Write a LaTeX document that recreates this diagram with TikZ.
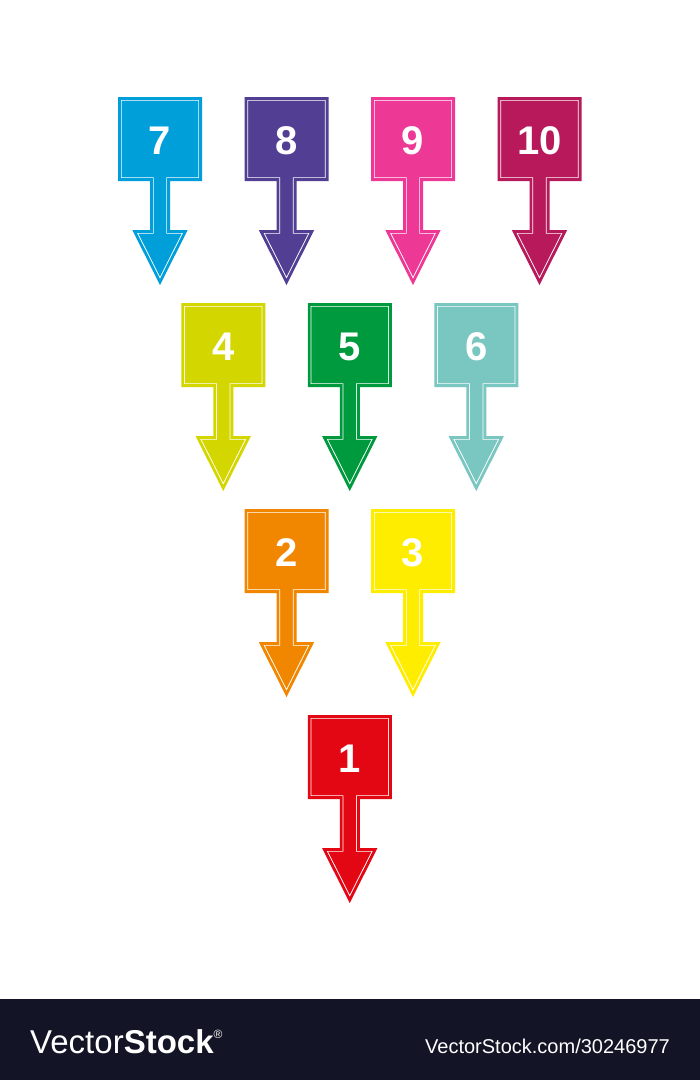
\documentclass[tikz,border=0pt]{standalone}
\usepackage{fontspec}
\setmainfont{Liberation Sans}
\usepackage{tikz}
\usepackage{xcolor}
\definecolor{sign-one}{RGB}{227,6,19}
\definecolor{sign-two}{RGB}{241,135,0}
\definecolor{sign-three}{RGB}{255,237,0}
\definecolor{sign-four}{RGB}{212,214,0}
\definecolor{sign-five}{RGB}{0,154,62}
\definecolor{sign-six}{RGB}{122,199,194}
\definecolor{sign-seven}{RGB}{0,159,218}
\definecolor{sign-eight}{RGB}{82,63,148}
\definecolor{sign-nine}{RGB}{238,56,150}
\definecolor{sign-ten}{RGB}{183,25,90}
\definecolor{bar-dark}{RGB}{19,21,38}
\tikzset{
    sign-body/.style = {fill=#1, draw=white, double=#1, line width=0.9pt, double distance=2.8pt, line join=miter},
    sign-number/.style = {text=white, font=\fontsize{40}{40}\selectfont\bfseries, anchor=base, inner sep=0pt},
    bar-text/.style = {text=white, inner sep=0pt},
    pics/number-sign/.style args = {#1/#2}{code={
        \draw[sign-body=#2] (-40.6,1.4) -- (40.6,1.4) -- (40.6,82.6) -- (8.6,82.6) -- (8.6,134.4)
            -- (25.4,134.4) -- (0,185) -- (-25.4,134.4) -- (-8.6,134.4) -- (-8.6,82.6) -- (-40.6,82.6) -- cycle;
        \node[sign-number] (-num) at (0,57) {#1};
    }},
}
\begin{document}
\begin{tikzpicture}[x=1pt, y=-1pt]
\useasboundingbox[fill=white] (0,0) rectangle (700,1080);
\pic (s7) at (160,97) {number-sign=7/sign-seven};
\pic (s8) at (286.5,97) {number-sign=8/sign-eight};
\pic (s9) at (413,97) {number-sign=9/sign-nine};
\pic (s10) at (539.5,97) {number-sign=10/sign-ten};
\pic (s4) at (223.25,303) {number-sign=4/sign-four};
\pic (s5) at (349.75,303) {number-sign=5/sign-five};
\pic (s6) at (476.25,303) {number-sign=6/sign-six};
\pic (s2) at (286.5,509) {number-sign=2/sign-two};
\pic (s3) at (413,509) {number-sign=3/sign-three};
\pic (s1) at (349.75,715) {number-sign=1/sign-one};
\fill[bar-dark] (0,999) rectangle (700,1080);
\node[bar-text, anchor=base west, font=\fontsize{33}{33}\selectfont] (logo) at (30,1053)
    {Vector\textbf{Stock}\raisebox{15pt}{\fontsize{12}{12}\selectfont ®}};
\node[bar-text, anchor=base east, font=\fontsize{20}{20}\selectfont] (site) at (670,1053) {VectorStock.com/30246977};
\end{tikzpicture}
\end{document}
